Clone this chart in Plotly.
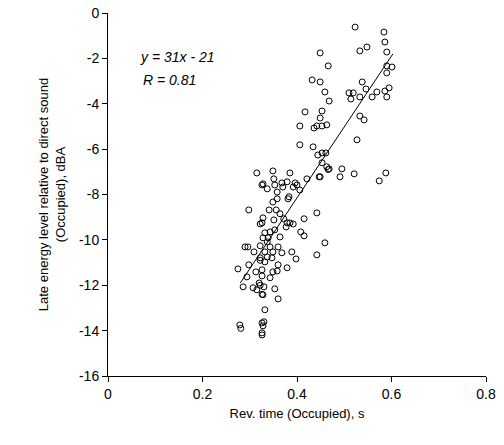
import plotly.graph_objects as go

rev_time = [0.523,0.584,0.586,0.590,0.533,0.548,0.449,0.466,0.590,0.601,0.590,0.432,0.449,0.538,0.459,0.468,
0.510,0.519,0.514,0.533,0.546,0.559,0.569,0.586,0.595,0.590,0.417,0.453,0.449,0.436,0.442,0.453,0.463,0.406,
0.533,0.542,0.406,0.434,0.527,0.444,0.453,0.461,0.453,0.463,0.468,0.421,0.449,0.495,0.491,0.521,0.588,0.574,
0.349,0.385,0.447,0.466,0.328,0.337,0.351,0.353,0.368,0.379,0.358,0.370,0.396,0.400,0.406,0.392,0.383,0.381,
0.349,0.358,0.341,0.356,0.364,0.442,0.328,0.351,0.372,0.379,0.385,0.392,0.415,0.322,0.377,0.332,0.343,0.353,
0.408,0.415,0.328,0.339,0.364,0.337,0.322,0.459,0.343,0.360,0.332,0.349,0.368,0.389,0.442,0.322,0.337,0.347,
0.398,0.332,0.360,0.379,0.326,0.349,0.358,0.326,0.343,0.330,0.353,0.328,0.360,0.332,0.330,0.328,0.326,
0.315,0.326,0.298,0.326,0.290,0.296,0.309,0.322,0.298,0.275,0.313,0.294,0.286,0.307,0.315,0.326,0.279,0.281,
0.326,0.326,0.320,0.322]
late_level = [-0.62,-0.84,-1.28,-1.72,-1.67,-1.5,-1.76,-2.33,-2.33,-2.38,-2.64,-2.95,-3.04,-3.04,-3.48,-3.88,
-3.52,-3.52,-3.79,-3.7,-3.35,-3.7,-3.48,-3.44,-3.3,-3.7,-4.36,-4.32,-4.63,-5.07,-4.98,-4.98,-4.93,-4.98,
-4.54,-4.71,-5.81,-5.9,-5.59,-6.26,-6.17,-6.17,-6.6,-6.78,-6.87,-7.31,-7.22,-6.87,-7.22,-7.09,-7.05,-7.4,
-6.96,-7.05,-7.22,-6.9,-7.53,-7.75,-7.31,-7.58,-7.49,-7.44,-7.89,-7.67,-7.49,-7.58,-7.8,-7.67,-8.1,-8.19,
-8.33,-8.19,-8.68,-8.68,-8.85,-8.81,-9.03,-9.12,-9.07,-9.25,-9.25,-9.3,-9.07,-9.3,-9.43,-9.69,-9.65,-9.56,
-9.65,-9.82,-9.91,-9.91,-9.87,-10.09,-10.26,-10.13,-10.31,-10.31,-10.53,-10.53,-10.57,-10.53,-10.66,-10.79,-10.75,-10.79,
-10.84,-10.97,-11.1,-11.23,-11.32,-11.41,-11.37,-11.59,-11.67,-12.07,-12.16,-12.42,-12.6,-13.08,-13.61,-13.79,-14.19,
-7.05,-7.58,-8.68,-9.25,-10.31,-10.31,-10.53,-10.9,-11.1,-11.28,-11.41,-11.63,-12.07,-12.11,-12.2,-12.4,-13.75,-13.9,
-13.66,-14.1,-11.9,-12.0]
fit_x = [0.28, 0.603]
fit_y = [-11.9, -1.8]
x_ticks = [0, 0.2, 0.4, 0.6, 0.8]
x_labels = ["0", "0.2", "0.4", "0.6", "0.8"]
y_ticks = [0, -2, -4, -6, -8, -10, -12, -14, -16]
y_labels = ["0", "-2", "-4", "-6", "-8", "-10", "-12", "-14", "-16"]

fig = go.Figure()
fig.add_trace(go.Scatter(x=rev_time, y=late_level, mode="markers",
    marker=dict(symbol="circle-open", size=6, color="black", line=dict(width=1))))
fig.add_trace(go.Scatter(x=fit_x, y=fit_y, mode="lines", line=dict(color="black", width=1)))
fig.add_annotation(x=0.148, y=-1.94, text="<i>y = 31x - 21</i>", showarrow=False, font=dict(size=14))
fig.add_annotation(x=0.131, y=-2.95, text="<i>R = 0.81</i>", showarrow=False, font=dict(size=14))
ax = dict(showgrid=False, zeroline=False, showline=True, linecolor="black", linewidth=1,
          ticks="outside", ticklen=5, tickcolor="black", mirror=False, automargin=False,
          tickfont=dict(size=14))
fig.update_xaxes(range=[0, 0.8], tickvals=x_ticks, ticktext=x_labels,
                 title=dict(text="Rev. time (Occupied), s", standoff=8, font=dict(size=13)), **ax)
fig.update_yaxes(range=[-16, 0], tickvals=y_ticks, ticktext=y_labels,
                 title=dict(text="Late energy level relative to direct sound<br>(Occupied), dBA", standoff=10, font=dict(size=13)), **ax)
fig.update_layout(width=504, height=445, showlegend=False, plot_bgcolor="white", paper_bgcolor="white",
    margin=dict(l=108, r=18, t=13, b=69), font=dict(family="Liberation Sans, Arial", size=14, color="black"))
fig.write_html("out.html", config={"displayModeBar": False},
               post_script="document.body.style.margin='0';document.body.style.overflow='hidden';")
